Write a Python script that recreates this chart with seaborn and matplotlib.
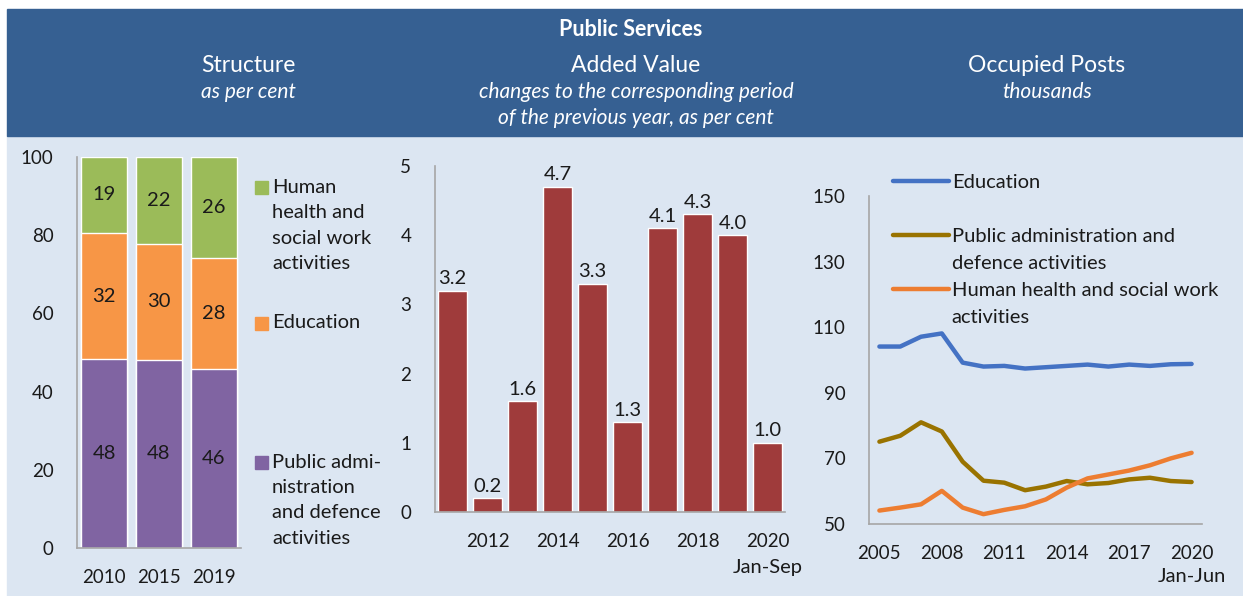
import matplotlib
matplotlib.use("Agg")
import matplotlib.pyplot as plt
from matplotlib.patches import Rectangle
from matplotlib.lines import Line2D
from matplotlib.ticker import FixedLocator, NullFormatter, FixedFormatter
import seaborn as sns
import pandas as pd

# ---------------- data ----------------
# Structure, as per cent
struct_years = ["2010", "2015", "2019"]
struct_public_admin = [48.3, 48.2, 45.7]
struct_education = [32.3, 29.6, 28.4]
struct_health = [19.4, 22.2, 25.9]
struct_legend = [
    "Human\nhealth and\nsocial work\nactivities",
    "Education",
    "Public admi-\nnistration\nand defence\nactivities",
]

# Added value, change to the same period of the previous year, per cent
av_years = ["2011", "2012", "2013", "2014", "2015",
            "2016", "2017", "2018", "2019", "2020"]
av_change = [3.2, 0.2, 1.6, 4.7, 3.3, 1.3, 4.1, 4.3, 4.0, 1.0]
av_labelled = ["2012", "2014", "2016", "2018", "2020"]
av_period_note = "Jan-Sep"

# Occupied posts, thousands
posts_years = [2005, 2006, 2007, 2008, 2009, 2010, 2011, 2012,
               2013, 2014, 2015, 2016, 2017, 2018, 2019, 2020]
posts_education = [104.1, 104.1, 107.1, 108.1, 99.2, 98.0, 98.2, 97.4,
                   97.8, 98.2, 98.6, 98.0, 98.6, 98.2, 98.7, 98.8]
posts_public_admin = [75.1, 76.9, 81.0, 78.2, 69.0, 63.2, 62.6, 60.3,
                      61.4, 63.1, 62.1, 62.5, 63.6, 64.1, 63.1, 62.8]
posts_health = [54.1, 55.0, 56.0, 60.1, 55.0, 53.0, 54.3, 55.4,
                57.5, 61.1, 63.9, 65.1, 66.3, 67.9, 70.0, 71.7]
posts_tick_years = [2005, 2008, 2011, 2014, 2017, 2020]
posts_period_note = "Jan-Jun"
posts_legend = ["Education", "",
                "Public administration and", "defence activities",
                "Human health and social work", "activities"]

# ---------------- style ----------------
HEADER = "#366092"
PANEL_BG = "#DCE6F2"
GREEN, ORANGE, PURPLE = "#9BBB59", "#F79646", "#8064A2"
BAR_RED = "#9F3B3B"
LINE_EDU, LINE_PA, LINE_HH = "#4472C4", "#997300", "#ED7D31"
AXIS_GREY = "#A6A6A6"
TEXT = "#1A1A1A"
FS = 14.5      # body text
FS_TICK = 13.5

sns.set_theme(style="white")
plt.rcParams["font.family"] = ["Lato", "DejaVu Sans"]
plt.rcParams["text.color"] = TEXT
plt.rcParams["axes.labelcolor"] = TEXT
plt.rcParams["xtick.color"] = TEXT
plt.rcParams["ytick.color"] = TEXT

W, H = 1243, 596
fig = plt.figure(figsize=(W / 100, H / 100), dpi=100, facecolor="white")


def fx(x):
    return x / W


def fy(y):
    return 1 - y / H


# background blocks, kept underneath the axes
fig.patches.append(Rectangle((fx(7), fy(596)), 1 - fx(7), fy(136) - fy(596),
                             transform=fig.transFigure, color=PANEL_BG, zorder=-5))
fig.patches.append(Rectangle((fx(7), fy(136)), 1 - fx(7), fy(9) - fy(136),
                             transform=fig.transFigure, color=HEADER, zorder=-5))

# header texts
fig.text(fx(631), fy(30), "Public Services", color="white", fontsize=15.5,
         fontweight="bold", ha="center", va="center")
heads = [(248, "Structure", ["as per cent"]),
         (636, "Added Value", ["changes to the corresponding period",
                               "of the previous year, as per cent"]),
         (1047, "Occupied Posts", ["thousands"])]
for xc, title, subs in heads:
    fig.text(fx(xc), fy(66), title, color="white", fontsize=16.5,
             ha="center", va="center")
    for k, s in enumerate(subs):
        fig.text(fx(xc), fy(92 + 26 * k), s, color="white", fontsize=15,
                 style="italic", ha="center", va="center")


def style_axes(ax):
    ax.set_facecolor("none")
    for side in ("top", "right"):
        ax.spines[side].set_visible(False)
    for side in ("left", "bottom"):
        ax.spines[side].set_color(AXIS_GREY)
        ax.spines[side].set_linewidth(1.2)
    ax.tick_params(axis="both", which="major", direction="out", length=5,
                   width=1.2, color=AXIS_GREY, labelsize=FS_TICK)
    ax.tick_params(axis="y", pad=12)
    ax.tick_params(axis="x", which="minor", length=0, labelsize=FS_TICK, pad=15)
    ax.set_xlabel("")
    ax.set_ylabel("")


def period_note(ax, xpos, text, offset_pt):
    ax.annotate(text, xy=(xpos, 0), xycoords=("data", "axes fraction"),
                xytext=(0, offset_pt), textcoords="offset points",
                ha="center", va="center", fontsize=FS, annotation_clip=False)


# ---------------- structure: stacked bars ----------------
ax1 = fig.add_axes([fx(77), fy(548), fx(241) - fx(77), fy(157) - fy(548)])
sdf = pd.DataFrame({"year": struct_years, "pa": struct_public_admin,
                    "edu": struct_education, "hh": struct_health})
sdf["mid"] = sdf["pa"] + sdf["edu"]
sdf["top"] = sdf["mid"] + sdf["hh"]
for col, colr in (("top", GREEN), ("mid", ORANGE), ("pa", PURPLE)):
    sns.barplot(data=sdf, x="year", y=col, color=colr, saturation=1,
                width=0.84, ax=ax1, zorder=2)
for i, r in sdf.iterrows():
    ax1.text(i, r["pa"] / 2, f"{r['pa']:.0f}", ha="center", va="center", fontsize=FS)
    ax1.text(i, r["pa"] + r["edu"] / 2, f"{r['edu']:.0f}", ha="center",
             va="center", fontsize=FS)
    ax1.text(i, r["mid"] + r["hh"] / 2, f"{r['hh']:.0f}", ha="center",
             va="center", fontsize=FS)
ax1.set_ylim(0, 100)
ax1.set_xlim(-0.5, 2.5)
ax1.set_yticks([0, 20, 40, 60, 80, 100])
ax1.xaxis.set_major_locator(FixedLocator([-0.5, 0.5, 1.5, 2.5]))
ax1.xaxis.set_major_formatter(NullFormatter())
ax1.xaxis.set_minor_locator(FixedLocator([0, 1, 2]))
ax1.xaxis.set_minor_formatter(FixedFormatter(struct_years))
style_axes(ax1)

# legend of the structure panel, first line next to a colour square
legend_rows = [(187, GREEN, struct_legend[0]),
               (323, ORANGE, struct_legend[1]),
               (462, PURPLE, struct_legend[2])]
for y0, colr, label in legend_rows:
    fig.patches.append(Rectangle((fx(255), fy(y0 + 6.5)), fx(13), 13 / H,
                                 transform=fig.transFigure, color=colr))
    for k, line in enumerate(label.split("\n")):
        fig.text(fx(272), fy(y0 + 25.5 * k), line, fontsize=FS,
                 ha="left", va="center")

# ---------------- added value: bars ----------------
ax2 = fig.add_axes([fx(435), fy(512), fx(785) - fx(435), fy(166) - fy(512)])
sns.barplot(x=av_years, y=av_change, color=BAR_RED, saturation=1,
            width=0.82, ax=ax2, zorder=2)
ax2.bar_label(ax2.containers[0], fmt="%.1f", padding=2.5, fontsize=FS)
ax2.set_ylim(0, 5)
ax2.set_xlim(-0.5, len(av_years) - 0.5)
ax2.set_yticks([0, 1, 2, 3, 4, 5])
ax2.xaxis.set_major_locator(FixedLocator([i - 0.5 for i in range(len(av_years) + 1)]))
ax2.xaxis.set_major_formatter(NullFormatter())
lab_pos = [av_years.index(y) for y in av_labelled]
ax2.xaxis.set_minor_locator(FixedLocator(lab_pos))
ax2.xaxis.set_minor_formatter(FixedFormatter(av_labelled))
style_axes(ax2)
period_note(ax2, av_years.index(av_labelled[-1]), av_period_note, -40)

# ---------------- occupied posts: lines ----------------
ax3 = fig.add_axes([fx(869), fy(524), fx(1202) - fx(869), fy(196) - fy(524)])
pdf = pd.DataFrame({
    "year": posts_years * 3,
    "value": posts_education + posts_public_admin + posts_health,
    "series": (["Education"] * len(posts_years)
               + ["Public administration"] * len(posts_years)
               + ["Human health"] * len(posts_years)),
})
palette = {"Education": LINE_EDU, "Public administration": LINE_PA,
           "Human health": LINE_HH}
sns.lineplot(data=pdf, x="year", y="value", hue="series", palette=palette,
             linewidth=3.2, legend=False, ax=ax3, zorder=3)
ax3.set_ylim(50, 150)
ax3.set_yticks([50, 70, 90, 110, 130, 150])
ax3.set_xlim(posts_years[0] - 0.5, posts_years[-1] + 0.5)
ax3.xaxis.set_major_locator(FixedLocator([y - 0.5 for y in posts_years] + [posts_years[-1] + 0.5]))
ax3.xaxis.set_major_formatter(NullFormatter())
ax3.xaxis.set_minor_locator(FixedLocator(posts_tick_years))
ax3.xaxis.set_minor_formatter(FixedFormatter([str(y) for y in posts_tick_years]))
style_axes(ax3)
period_note(ax3, posts_tick_years[-1], posts_period_note, -38)

blank = Line2D([], [], color="none")
handles = [Line2D([], [], color=LINE_EDU, lw=3.2), blank,
           Line2D([], [], color=LINE_PA, lw=3.2), blank,
           Line2D([], [], color=LINE_HH, lw=3.2), blank]
ax3.legend(handles, posts_legend, loc="upper left",
           bbox_to_anchor=((893 - 869) / 333, 1 + (196 - 174) / 328),
           frameon=False, fontsize=FS, borderpad=0, borderaxespad=0,
           handlelength=2.8, handletextpad=0.12, labelspacing=0.49)

fig.savefig("out.png", dpi=100, facecolor="white")
